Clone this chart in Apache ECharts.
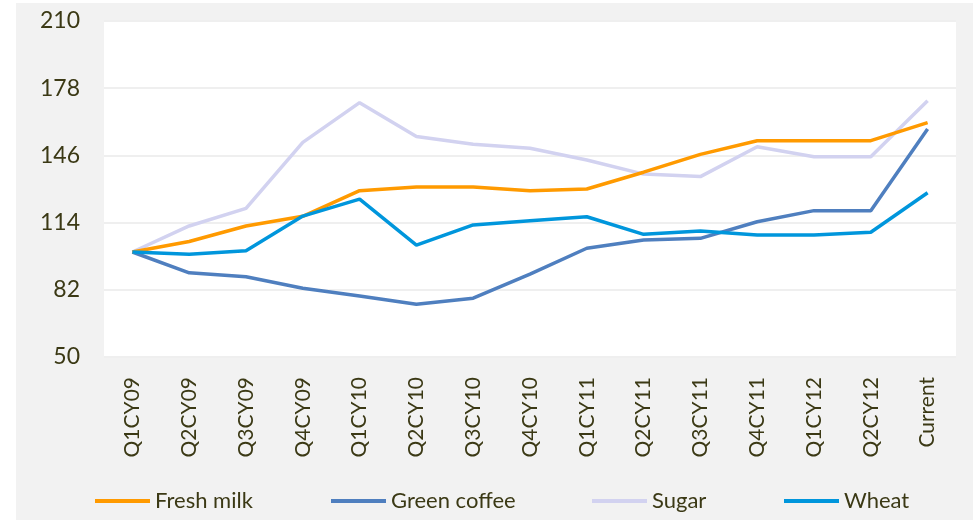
<!DOCTYPE html>
<html>
<head>
<meta charset="utf-8">
<script src="https://cdn.jsdelivr.net/npm/echarts@6/dist/echarts.min.js"></script>
<style>html,body{margin:0;padding:0;background:#fff;}#c{width:977px;height:520px;}</style>
</head>
<body>
<div id="c"></div>
<script>
const categories = ['Q1CY09','Q2CY09','Q3CY09','Q4CY09','Q1CY10','Q2CY10','Q3CY10','Q4CY10','Q1CY11','Q2CY11','Q3CY11','Q4CY11','Q1CY12','Q2CY12','Current'];
const freshMilk   = [100, 105, 112.4, 117, 129.2, 131, 131, 129.2, 130, 138, 146.5, 153, 153, 153, 161.6];
const greenCoffee = [100, 90.1, 88.2, 82.7, 79, 75.1, 78, 89.5, 101.8, 105.7, 106.5, 114.4, 119.7, 119.7, 158.6];
const sugar       = [100, 112.4, 120.8, 152.2, 171.1, 155, 151.3, 149.4, 143.8, 137.1, 135.9, 150.1, 145.4, 145.4, 172];
const wheat       = [100, 98.9, 100.6, 117.1, 125.2, 103.3, 112.9, 114.9, 116.8, 108.4, 110, 108.1, 108.1, 109.4, 128.2];
const yTicks = {min: 50, max: 210, interval: 32};

const seriesNames = ['Fresh milk','Green coffee','Sugar','Wheat'];
const seriesData = [freshMilk, greenCoffee, sugar, wheat];
const colors = ['#ff9a00','#4f7fbf','#d2d2f0','#0096dc'];
const legendLeft = [95, 331, 592, 784];
const FONT = 'Lato';
const TXT = '#3b3915';

const chart = echarts.init(document.getElementById('c'), null, {renderer:'canvas'});
chart.setOption({
  animation: false,
  backgroundColor: '#ffffff',
  graphic: [{
    type: 'rect', z: -10, silent: true,
    shape: {x: 16, y: 3, width: 957, height: 517},
    style: {fill: '#f2f2f2'}
  }],
  grid: {left: 104, right: 21, top: 21, bottom: 163, show: true, backgroundColor: '#ffffff', borderWidth: 0},
  legend: seriesNames.map((n, i) => ({
    data: [n], left: legendLeft[i], top: 490, padding: 0,
    icon: 'rect', itemWidth: 55, itemHeight: 4, itemGap: 4,
    textStyle: {fontFamily: FONT, fontSize: 22, color: TXT}
  })),
  xAxis: {
    type: 'category', data: categories, boundaryGap: true,
    axisLine: {show: false}, axisTick: {show: false},
    axisLabel: {rotate: 90, margin: 20, fontFamily: FONT, fontSize: 21, color: TXT},
    splitLine: {show: false}
  },
  yAxis: {
    type: 'value', min: yTicks.min, max: yTicks.max, interval: yTicks.interval,
    axisLine: {show: false}, axisTick: {show: false},
    axisLabel: {margin: 24, fontFamily: FONT, fontSize: 23, color: TXT},
    splitLine: {show: true, lineStyle: {color: '#efefef', width: 2}}
  },
  series: seriesNames.map((n, i) => ({
    name: n, type: 'line', data: seriesData[i], symbol: 'none',
    lineStyle: {color: colors[i], width: 3.5}, itemStyle: {color: colors[i]},
    z: [3,2,1,4][i]
  }))
});
</script>
</body>
</html>
